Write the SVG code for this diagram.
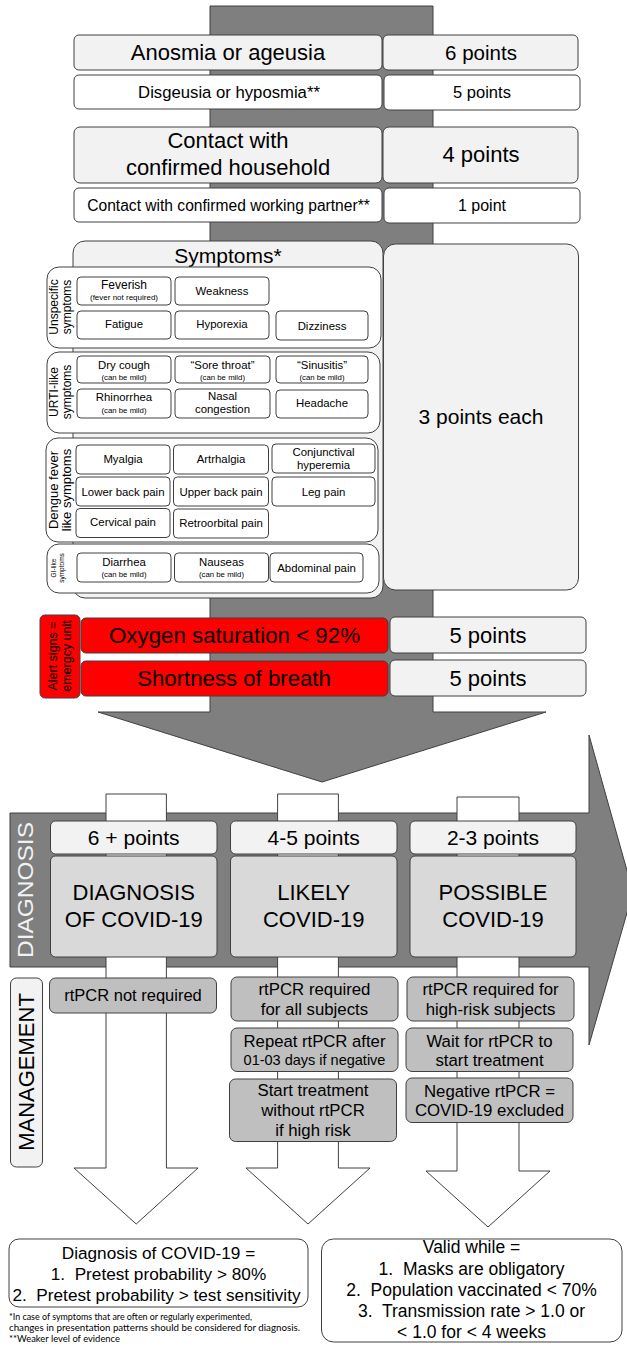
<svg xmlns="http://www.w3.org/2000/svg" width="627" height="1347" viewBox="0 0 627 1347">
<style>
text{font-family:"Liberation Sans",Arial,sans-serif;fill:#000;text-anchor:middle}
.bx{stroke:#404040;stroke-width:1}
.lg{fill:#f2f2f2}
.wh{fill:#fff}
.md{fill:#d9d9d9}
.dk{fill:#bfbfbf}
.rd{fill:#ff0000}
.ar{fill:#7f7f7f;stroke:#404040;stroke-width:1}
.wa{fill:#fff;stroke:#404040;stroke-width:1}
.s11{font-size:11.4px}
.s8{font-size:7.8px}
.fn{font-family:Lato,"Open Sans",sans-serif;font-size:9.5px;text-anchor:start}
</style>

<!-- big arrows (background) -->
<g id="connectors">
<polygon id="down-arrow" class="ar" points="210,6 433,6 433,712 546,712 322,782 98,712 210,712"/>
<polygon id="right-arrow" class="ar" points="10,813 589,813 589,735 633,892 589,1045 589,967 10,967"/>
<polygon id="arrow-1" class="wa" points="106,794 166.4,794 166.4,1168 198,1168 136.2,1224 74,1168 106,1168"/>
<polygon id="arrow-2" class="wa" points="277.6,794 338.4,794 338.4,1168 370,1168 308,1224 246,1168 277.6,1168"/>
<polygon id="arrow-3" class="wa" points="457,797 519,797 519,1171 550,1171 488,1227 426,1171 457,1171"/>
</g>

<!-- top criteria -->
<g id="anosmia"><rect class="bx lg" x="74" y="35" width="308" height="35" rx="5"/><text x="228" y="60" font-size="22">Anosmia or ageusia</text></g>
<g id="anosmia-pts"><rect class="bx lg" x="383" y="35" width="195" height="35" rx="5"/><text x="481" y="60" font-size="20.5">6 points</text></g>
<g id="disgeusia"><rect class="bx wh" x="74" y="75" width="308" height="34" rx="5"/><text x="229" y="97.5" font-size="16.7">Disgeusia or hyposmia**</text></g>
<g id="disgeusia-pts"><rect class="bx wh" x="384" y="75" width="196" height="35" rx="5"/><text x="482" y="97.5" font-size="16.5">5 points</text></g>
<g id="household"><rect class="bx lg" x="74" y="127" width="308" height="56" rx="6"/><text x="228" y="148" font-size="22">Contact with</text><text x="228" y="175" font-size="22">confirmed household</text></g>
<g id="household-pts"><rect class="bx lg" x="383" y="127" width="195" height="56" rx="6"/><text x="481" y="162" font-size="22">4 points</text></g>
<g id="partner"><rect class="bx wh" x="74" y="188" width="308" height="34" rx="5"/><text x="228.5" y="211" font-size="15.6">Contact with confirmed working partner**</text></g>
<g id="partner-pts"><rect class="bx wh" x="384" y="188" width="196" height="35" rx="5"/><text x="482" y="211" font-size="16">1 point</text></g>

<!-- symptoms -->
<g id="symptoms-panel"><rect class="bx lg" x="73" y="241" width="310" height="357" rx="12"/><text x="228" y="263" font-size="21">Symptoms*</text></g>
<g id="symptoms-pts"><rect class="bx lg" x="383.5" y="244" width="195" height="346" rx="12"/><text x="481" y="424" font-size="21">3 points each</text></g>

<g id="unspecific">
<rect class="bx wh" x="47" y="267" width="334" height="81" rx="12"/>
<text transform="translate(58,307) rotate(-90)" font-size="12">Unspecific</text>
<text transform="translate(70.5,307) rotate(-90)" font-size="12">symptoms</text>
<rect class="bx wh" x="77" y="277" width="94" height="28" rx="4"/><text x="124" y="288.5" font-size="12">Feverish</text><text x="124" y="300" font-size="8">(fever not required)</text>
<rect class="bx wh" x="175" y="277" width="94" height="28" rx="4"/><text class="s11" x="222" y="295">Weakness</text>
<rect class="bx wh" x="77" y="311" width="94" height="28" rx="4"/><text class="s11" x="124" y="328">Fatigue</text>
<rect class="bx wh" x="175" y="311" width="94" height="28" rx="4"/><text class="s11" x="222" y="328">Hyporexia</text>
<rect class="bx wh" x="276" y="311" width="92" height="29" rx="4"/><text class="s11" x="322" y="329.5">Dizziness</text>
</g>

<g id="urti">
<rect class="bx wh" x="47" y="352" width="333" height="81" rx="12"/>
<text transform="translate(58,392) rotate(-90)" font-size="12">URTI-like</text>
<text transform="translate(70.5,392) rotate(-90)" font-size="12">symptoms</text>
<rect class="bx wh" x="77" y="356" width="94" height="27" rx="4"/><text class="s11" x="124" y="368.5">Dry cough</text><text class="s8" x="124" y="379.5">(can be mild)</text>
<rect class="bx wh" x="175" y="356" width="95" height="27" rx="4"/><text class="s11" x="222.5" y="368.5">“Sore throat”</text><text class="s8" x="222.5" y="379.5">(can be mild)</text>
<rect class="bx wh" x="276" y="356" width="92" height="27" rx="4"/><text class="s11" x="322" y="368.5">“Sinusitis”</text><text class="s8" x="322" y="379.5">(can be mild)</text>
<rect class="bx wh" x="77" y="389" width="94" height="29" rx="4"/><text class="s11" x="124" y="401">Rhinorrhea</text><text class="s8" x="124" y="413">(can be mild)</text>
<rect class="bx wh" x="175" y="389" width="95" height="29" rx="4"/><text class="s11" x="222.5" y="400">Nasal</text><text class="s11" x="222.5" y="413">congestion</text>
<rect class="bx wh" x="276" y="390" width="92" height="28" rx="4"/><text class="s11" x="322" y="407">Headache</text>
</g>

<g id="dengue">
<rect class="bx wh" x="46" y="438" width="332" height="104" rx="12"/>
<text transform="translate(58,490) rotate(-90)" font-size="13">Dengue fever</text>
<text transform="translate(71,490) rotate(-90)" font-size="13">like symptoms</text>
<rect class="bx wh" x="76" y="445" width="94" height="29" rx="4"/><text class="s11" x="123" y="463">Myalgia</text>
<rect class="bx wh" x="173.5" y="445" width="95" height="29" rx="4"/><text class="s11" x="221" y="463">Artrhalgia</text>
<rect class="bx wh" x="272" y="444" width="103" height="29" rx="4"/><text class="s11" x="323.5" y="455.5">Conjunctival</text><text class="s11" x="323.5" y="468.5">hyperemia</text>
<rect class="bx wh" x="76" y="477" width="94" height="29" rx="4"/><text class="s11" x="123" y="495.5">Lower back pain</text>
<rect class="bx wh" x="173.5" y="477" width="95" height="29" rx="4"/><text class="s11" x="221" y="495.5">Upper back pain</text>
<rect class="bx wh" x="272" y="477" width="103" height="29" rx="4"/><text class="s11" x="323.5" y="495.5">Leg pain</text>
<rect class="bx wh" x="76" y="508.5" width="94" height="29" rx="4"/><text class="s11" x="123" y="526">Cervical pain</text>
<rect class="bx wh" x="173.5" y="509" width="95" height="29" rx="4"/><text class="s11" x="221" y="526.5">Retroorbital pain</text>
</g>

<g id="gi">
<rect class="bx wh" x="47" y="544" width="332" height="49" rx="12"/>
<text transform="translate(56,568) rotate(-90)" font-size="6.5">GI-like</text>
<text transform="translate(63.5,568) rotate(-90)" font-size="6.5">symptoms</text>
<rect class="bx wh" x="77" y="553" width="94" height="29" rx="4"/><text class="s11" x="124" y="565.5">Diarrhea</text><text class="s8" x="124" y="577">(can be mild)</text>
<rect class="bx wh" x="174.5" y="553" width="94" height="29" rx="4"/><text class="s11" x="221.5" y="565.5">Nauseas</text><text class="s8" x="221.5" y="577">(can be mild)</text>
<rect class="bx wh" x="270" y="553" width="93" height="29" rx="4"/><text class="s11" x="316.5" y="571.5">Abdominal pain</text>
</g>

<!-- alert signs -->
<g id="alert-label"><rect class="bx rd" x="40" y="615" width="40" height="83" rx="5"/>
<text transform="translate(57,656) rotate(-90)" font-size="12.5">Alert signs =</text>
<text transform="translate(70.5,656) rotate(-90)" font-size="12.5">emergcy unit</text></g>
<g id="oxygen"><rect class="bx rd" x="81" y="618" width="307" height="35" rx="5"/><text x="234.5" y="643" font-size="22.3">Oxygen saturation &lt; 92%</text></g>
<g id="oxygen-pts"><rect class="bx lg" x="390" y="617" width="196" height="36" rx="5"/><text x="488" y="643" font-size="22">5 points</text></g>
<g id="breath"><rect class="bx rd" x="81" y="661" width="307" height="35" rx="5"/><text x="234" y="685.5" font-size="22.2">Shortness of breath</text></g>
<g id="breath-pts"><rect class="bx lg" x="390" y="660" width="196" height="36" rx="5"/><text x="488" y="685.5" font-size="22">5 points</text></g>

<!-- diagnosis -->
<g id="diagnosis-label"><text transform="translate(33,890) rotate(-90)" font-size="22" textLength="136" lengthAdjust="spacingAndGlyphs" style="fill:#f2f2f2">DIAGNOSIS</text></g>
<g id="pts-6"><rect class="bx lg" x="50.5" y="821" width="166.5" height="33" rx="5"/><text x="133.7" y="845" font-size="21">6 + points</text></g>
<g id="pts-45"><rect class="bx lg" x="230.5" y="821" width="166.5" height="33" rx="5"/><text x="313.7" y="845" font-size="21">4-5 points</text></g>
<g id="pts-23"><rect class="bx lg" x="410" y="821" width="166" height="33" rx="5"/><text x="493" y="845" font-size="21">2-3 points</text></g>
<g id="dx-covid"><rect class="bx md" x="50.5" y="856" width="166.5" height="101" rx="5"/><text x="133.7" y="900" font-size="22">DIAGNOSIS</text><text x="133.7" y="927" font-size="22">OF COVID-19</text></g>
<g id="dx-likely"><rect class="bx md" x="230.5" y="856" width="166.5" height="101" rx="5"/><text x="313.7" y="900" font-size="22">LIKELY</text><text x="313.7" y="927" font-size="22">COVID-19</text></g>
<g id="dx-possible"><rect class="bx md" x="410" y="856" width="166" height="101" rx="5"/><text x="493" y="900" font-size="22">POSSIBLE</text><text x="493" y="927" font-size="22">COVID-19</text></g>

<!-- management -->
<g id="management-label"><rect class="bx lg" x="10.5" y="978" width="32" height="189" rx="6"/><text transform="translate(34,1072) rotate(-90)" font-size="22">MANAGEMENT</text></g>
<g id="m1"><rect class="bx dk" x="49.5" y="978" width="167" height="35" rx="6"/><text x="133" y="1001" font-size="16.5">rtPCR not required</text></g>
<g id="m2a"><rect class="bx dk" x="231" y="977" width="167" height="44" rx="6"/><text x="314.5" y="995" font-size="16.8">rtPCR required</text><text x="314.5" y="1015" font-size="16.8">for all subjects</text></g>
<g id="m2b"><rect class="bx dk" x="231" y="1028" width="167" height="43.5" rx="6"/><text x="314.5" y="1046.5" font-size="16.7">Repeat rtPCR after</text><text x="314.5" y="1064.5" font-size="14.5">01-03 days if negative</text></g>
<g id="m2c"><rect class="bx dk" x="229.5" y="1079" width="167" height="62.5" rx="6"/><text x="313" y="1095.5" font-size="16.8">Start treatment</text><text x="313" y="1116" font-size="16.8">without rtPCR</text><text x="313" y="1135.5" font-size="16.8">if high risk</text></g>
<g id="m3a"><rect class="bx dk" x="407" y="977" width="167" height="44" rx="6"/><text x="490.5" y="995" font-size="16.8">rtPCR required for</text><text x="490.5" y="1015" font-size="16.8">high-risk subjects</text></g>
<g id="m3b"><rect class="bx dk" x="406" y="1028" width="167" height="43.5" rx="6"/><text x="489.5" y="1046.5" font-size="16.8">Wait for rtPCR to</text><text x="489.5" y="1065.5" font-size="16.8">start treatment</text></g>
<g id="m3c"><rect class="bx dk" x="406" y="1078" width="167" height="44.5" rx="6"/><text x="489.5" y="1096.5" font-size="16.8">Negative rtPCR =</text><text x="489.5" y="1115.5" font-size="16.8">COVID-19 excluded</text></g>

<!-- bottom notes -->
<g id="definition"><rect class="bx wh" x="9" y="1239" width="299" height="68" rx="10"/>
<text x="158.5" y="1259" font-size="17.2">Diagnosis of COVID-19 =</text>
<text x="158.5" y="1280" font-size="17.2" xml:space="preserve">1.  Pretest probability &gt; 80%</text>
<text x="156.5" y="1301" font-size="17.2" xml:space="preserve">2.  Pretest probability &gt; test sensitivity</text></g>
<g id="validity"><rect class="bx wh" x="321.5" y="1239" width="300.5" height="103" rx="12"/>
<text x="471.5" y="1253" font-size="17.5">Valid while =</text>
<text x="471.5" y="1274.5" font-size="17.5" xml:space="preserve">1.  Masks are obligatory</text>
<text x="471.5" y="1296" font-size="17.5" xml:space="preserve">2.  Population vaccinated &lt; 70%</text>
<text x="471.5" y="1317" font-size="17.5" xml:space="preserve">3.  Transmission rate &gt; 1.0 or</text>
<text x="471.5" y="1338" font-size="17.5">&lt; 1.0 for &lt; 4 weeks</text></g>
<g id="footnotes">
<text class="fn" x="9" y="1320" textLength="243" lengthAdjust="spacingAndGlyphs">*In case of symptoms that are often or regularly experimented,</text>
<text class="fn" x="9" y="1331" textLength="291" lengthAdjust="spacingAndGlyphs">changes in presentation patterns should be considered for diagnosis.</text>
<text class="fn" x="9" y="1342" textLength="111" lengthAdjust="spacingAndGlyphs">**Weaker level of evidence</text>
</g>
</svg>
